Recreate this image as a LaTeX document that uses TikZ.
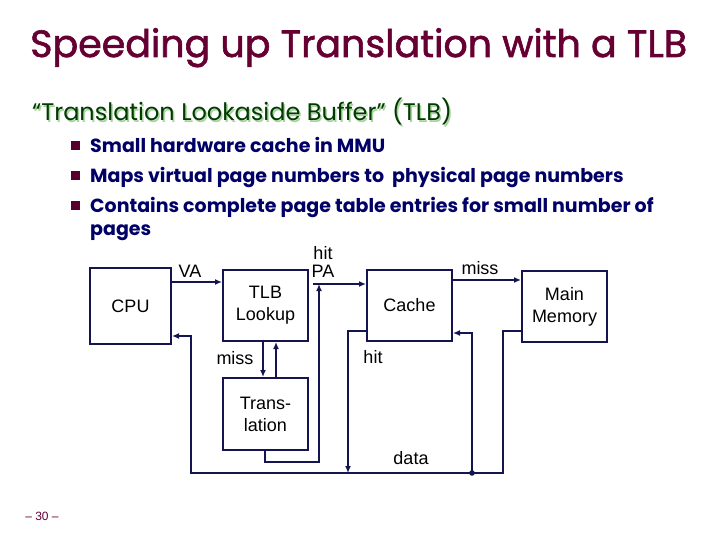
\documentclass[tikz,border=0pt]{standalone}
\usepackage{fontspec}
\usepackage{xcolor}
\usetikzlibrary{arrows.meta}
\setmainfont{Liberation Sans}
\newfontfamily\slidefont{Poppins}
\newfontfamily\titlefont{Poppins}[FakeBold=1.6]
\definecolor{titlered}{RGB}{102,0,51}
\definecolor{headgreen}{RGB}{0,60,0}
\definecolor{shadowgreen}{RGB}{170,210,160}
\definecolor{bulletblue}{RGB}{0,0,102}
\definecolor{wire}{RGB}{20,20,80}

\begin{document}
\begin{tikzpicture}[
    x=1pt, y=-1pt,
    box/.style={rectangle, draw=wire, line width=2pt, minimum width=85pt, minimum height=71pt, align=center, inner sep=0pt, font=\fontsize{18}{22}\selectfont},
    lbl/.style={inner sep=0pt, align=center, font=\fontsize{18}{18}\selectfont},
    arrow/.style={-{Latex[length=7pt,width=6pt]}, line width=2pt, draw=wire},
    heading/.style={anchor=base west, inner sep=0pt, font=\slidefont\fontsize{24}{28}\selectfont},
    point/.style={anchor=base west, inner sep=0pt, text=bulletblue, font=\slidefont\bfseries\fontsize{19}{23}\selectfont},
    square/.style={rectangle, fill=titlered!85!black, minimum size=9pt, inner sep=0pt}
]
\useasboundingbox (0,0) rectangle (720,540);

% Title and text
\node[anchor=base west, inner sep=0pt, text=titlered, font=\titlefont\fontsize{38}{40}\selectfont] (title) at (30,57) {Speeding up Translation with a TLB};
\node[heading, text=shadowgreen] (headshadow) at (33.5,122.5) {“Translation Lookaside Buffer” (TLB)};
\node[heading, text=headgreen] (head) at (32,121) {“Translation Lookaside Buffer” (TLB)};

\node[square] (sq1) at (75,146) {};
\node[point] (b1) at (90,153) {Small hardware cache in MMU};
\node[square] (sq2) at (75,176) {};
\node[point] (b2) at (90,183) {Maps virtual page numbers to\ \ physical page numbers};
\node[square] (sq3) at (75,206) {};
\node[point] (b3) at (90,213) {Contains complete page table entries for small number of};
\node[point] (b4) at (90,236) {pages};

\node[inner sep=0pt, text=titlered, font=\fontsize{12}{14}\selectfont] (pagenum) at (42,516) {– 30 –};

% Boxes
\node[box, minimum width=81pt, minimum height=76pt] (cpu) at (130.5,306) {CPU};
\node[box] (tlb) at (265.5,305.5) {TLB\\Lookup};
\node[box] (cache) at (409.5,305.5) {Cache};
\node[box] (mem) at (564.5,306.5) {Main\\Memory};
\node[box, minimum height=72pt] (trans) at (265.5,414) {Trans-\\lation};

% Labels
\node[lbl] (lva) at (190,271) {VA};
\node[lbl] (lpa) at (323,262) {hit\\PA};
\node[lbl] (lmiss) at (480,268) {miss};
\node[lbl] (ltmiss) at (235,358) {miss};
\node[lbl] (lhit) at (373,357) {hit};
\node[lbl] (ldata) at (411,458) {data};

% Helper points
\coordinate (va) at (0,282);
\coordinate (pa) at (313,284);
\coordinate (mc) at (0,280);
\coordinate (dn) at (263,0);
\coordinate (up) at (276,0);
\coordinate (tb) at (265,462);
\coordinate (pj) at (319,284);
\coordinate (ch) at (0,331);
\coordinate (hb) at (348,473);
\coordinate (mo) at (0,331);
\coordinate (br) at (503,473);
\coordinate (bl) at (191,473);
\coordinate (ci) at (0,336);
\coordinate (jd) at (472,473);
\coordinate (cf) at (0,333);

% Arrows
\draw[arrow] (cpu.east |- va) -- (tlb.west |- va);
\draw[arrow] (pa) -- (cache.west |- pa);
\draw[arrow] (cache.east |- mc) -- (mem.west |- mc);
\draw[arrow] (tlb.south -| dn) -- (trans.north -| dn);
\draw[arrow] (trans.north -| up) -- (tlb.south -| up);
\draw[arrow] (trans.south -| tb) -- (tb) -| (pj);
\draw[arrow] (cache.west |- ch) -| (hb);

\draw[arrow] (mem.west |- mo) -| (br) -- (bl) |- (cpu.east |- ci);
\fill[wire] (jd) circle (2.8pt);
\draw[arrow] (jd) |- (cache.east |- cf);

\end{tikzpicture}
\end{document}
